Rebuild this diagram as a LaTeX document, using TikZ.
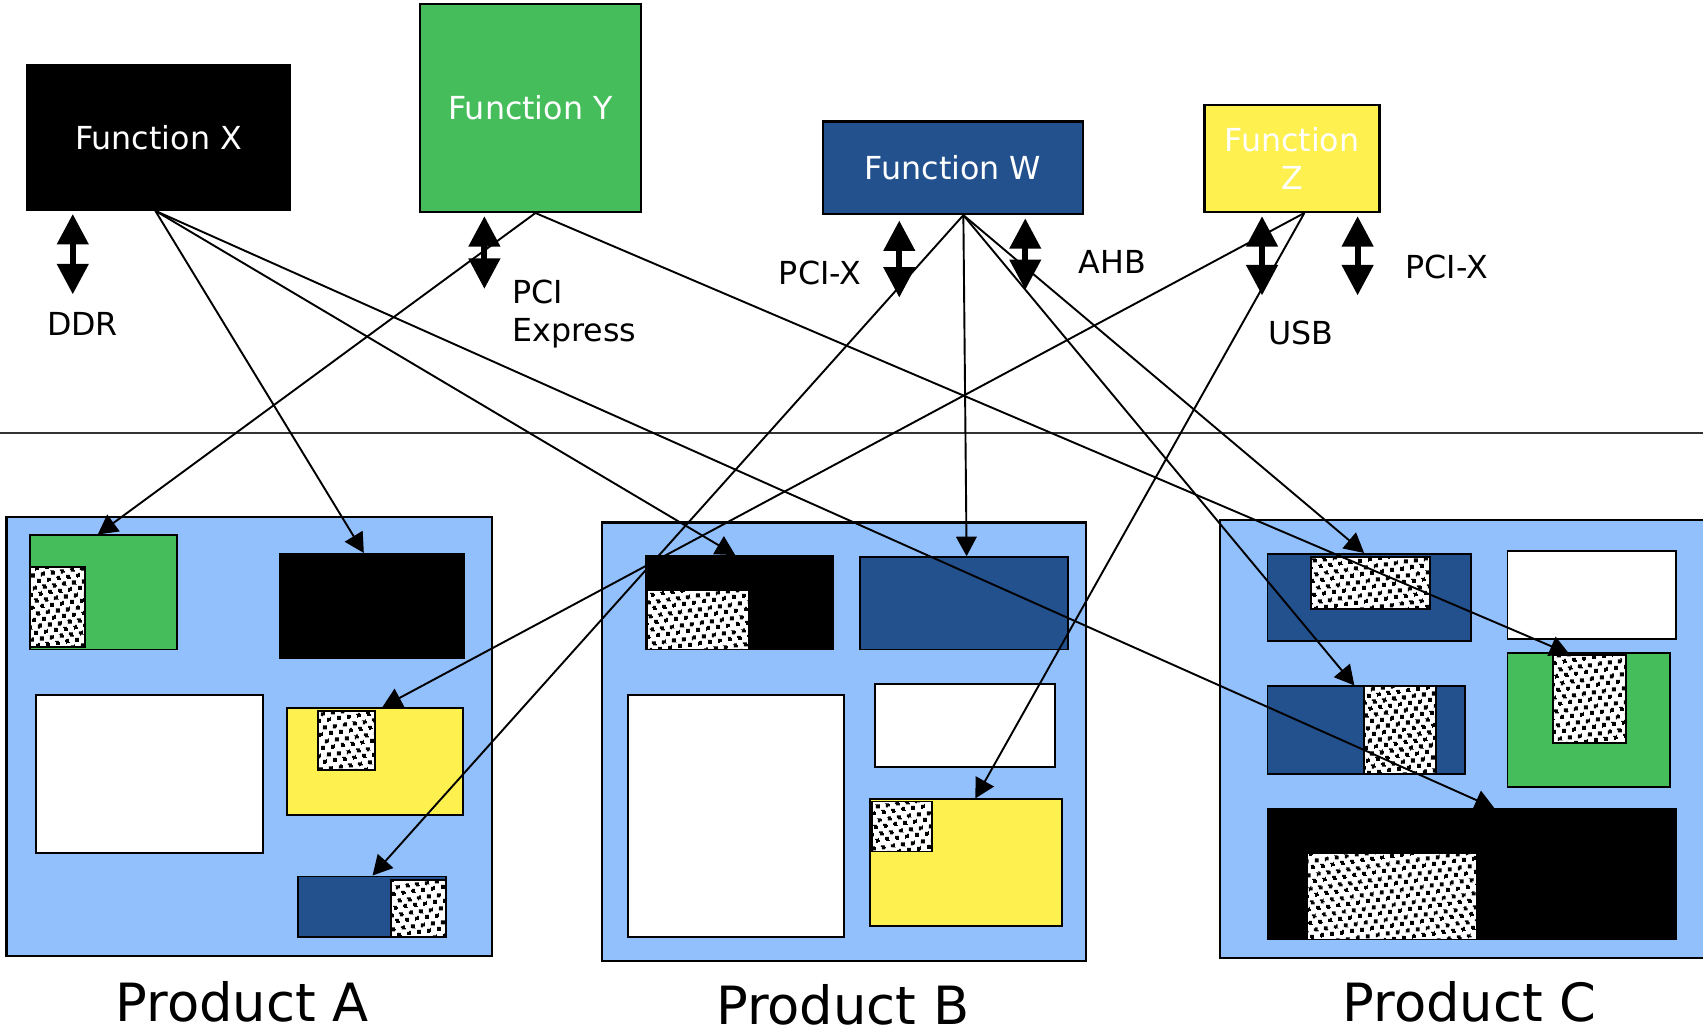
\documentclass[tikz,border=0pt]{standalone}
\usepackage{fontspec}
\setmainfont{DejaVu Sans}
\usetikzlibrary{arrows.meta,fit,patterns.meta}
\definecolor{fgreen}{HTML}{45BD5B}
\definecolor{fblue}{HTML}{22518E}
\definecolor{fyellow}{HTML}{FDF04F}
\definecolor{pblue}{HTML}{92C0FC}
\tikzdeclarepattern{
  name=chipdots,
  type=uncolored,
  bounding box={(0pt,0pt) and (2.6pt,3.4pt)},
  tile size={(2.6pt,3.4pt)},
  tile transformation={rotate=8},
  code={
    \fill (0pt,0pt) rectangle (1.05pt,1.05pt);
    \fill (1.3pt,1.7pt) rectangle (2.35pt,2.75pt);
  }
}
\begin{document}
\begin{tikzpicture}[x=0.01cm, y=-0.01cm,
  func/.style={draw=black, line width=0.6pt, inner sep=0pt, text=white, align=center, font=\fontsize{8.3}{10}\selectfont},
  lbl/.style={inner sep=0pt, font=\fontsize{8.3}{10}\selectfont},
  prod/.style={draw=black, line width=0.6pt, fill=pblue, inner sep=0pt},
  part/.style={draw=black, line width=0.5pt, inner sep=0pt},
  chip/.style={part, preaction={fill=white}, pattern=chipdots},
  prodlbl/.style={inner sep=0pt, font=\fontsize{13.8}{16}\selectfont},
  bus/.style={line width=1.6pt, {Triangle[length=0.28cm,width=0.28cm]}-{Triangle[length=0.28cm,width=0.28cm]}},
  link/.style={line width=0.5pt, -{Triangle[length=0.18cm,width=0.19cm]}}]
\useasboundingbox (0,0) rectangle (1568,951);

% functions
\node[func, fill=black, minimum width=2.42cm, minimum height=1.33cm] (fx) at (146,126.5) {Function X};
\node[func, fill=fgreen, minimum width=2.03cm, minimum height=1.91cm] (fy) at (488.5,99.5) {Function Y};
\node[func, fill=fblue, minimum width=2.39cm, minimum height=0.85cm] (fw) at (877.5,154.5) {Function W};
\node[func, fill=fyellow, minimum width=1.61cm, minimum height=0.98cm] (fz) at (1189.5,146) {Function\\Z};

% interfaces
\foreach \n/\x/\ya/\yb in {ddr/67/197/271, pcie/446/199/266, pcixa/828/203/274, ahb/944/201/267, usb/1162/199/272, pcixb/1250/199/272} {
  \coordinate (\n top) at (\x,\ya);
  \coordinate (\n bot) at (\x,\yb);
  \draw[bus] (\n top) -- (\n bot);
}
\node[lbl] (ddr) at (76,298) {DDR};
\node[lbl, align=left, anchor=north west] (pcie) at (471,257) {PCI\\Express};
\node[lbl] (pcixa) at (755,251) {PCI-X};
\node[lbl] (ahb) at (1024,241) {AHB};
\node[lbl] (usb) at (1198,307) {USB};
\node[lbl] (pcixb) at (1332,246) {PCI-X};

\draw[line width=0.5pt, black!80] (0,399) -- (1568,399);

% products
\node[prod, fit={(6,476) (453,880)}] (prodA) {};
\node[prod, fit={(554,481) (1000,885)}] (prodB) {};
\node[prod, fit={(1123,479) (1580,882)}] (prodC) {};
\node[prodlbl] (lblA) at (223,922) {Product A};
\node[prodlbl] (lblB) at (776,925) {Product B};
\node[prodlbl] (lblC) at (1353,922) {Product C};

% product A
\node[part, fill=fgreen, fit={(28,493) (163,598)}] (aGreen) {};
\node[chip, fit={(28,522) (78,596)}] (aGreenChip) {};
\node[part, fill=black, fit={(258,510) (427,606)}] (aBlack) {};
\node[part, fill=white, fit={(33,640) (242,785)}] (aWhite) {};
\node[part, fill=fyellow, fit={(264,652) (426,750)}] (aYellow) {};
\node[chip, fit={(293,655) (345,709)}] (aYellowChip) {};
\node[part, fill=fblue, fit={(274,807) (411,863)}] (aBlue) {};
\node[chip, fit={(360,810) (411,863)}] (aBlueChip) {};

% product B
\node[part, fill=black, fit={(595,512) (767,598)}] (bBlack) {};
\node[chip, fit={(596,543) (690,598)}] (bBlackChip) {};
\node[part, fill=fblue, fit={(792,513) (983,598)}] (bBlue) {};
\node[part, fill=white, fit={(578,640) (777,863)}] (bWhiteL) {};
\node[part, fill=white, fit={(806,630) (971,706)}] (bWhiteS) {};
\node[part, fill=fyellow, fit={(801,736) (978,853)}] (bYellow) {};
\node[chip, fit={(803,738) (858,784)}] (bYellowChip) {};

% product C
\node[part, fill=fblue, fit={(1167,510) (1354,590)}] (cBlueT) {};
\node[chip, fit={(1207,513) (1317,561)}] (cBlueTChip) {};
\node[part, fill=white, fit={(1388,507) (1543,588)}] (cWhite) {};
\node[part, fill=fblue, fit={(1167,632) (1349,713)}] (cBlueM) {};
\node[chip, fit={(1256,632) (1322,713)}] (cBlueMChip) {};
\node[part, fill=fgreen, fit={(1388,601) (1538,725)}] (cGreen) {};
\node[chip, fit={(1430,603) (1497,684)}] (cGreenChip) {};
\node[part, fill=black, fit={(1167,745) (1543,865)}] (cBlack) {};
\node[chip, fit={(1203,785) (1360,865)}] (cBlackChip) {};

% reuse links
\draw[link] (fx.south -| 143,0) -- (aBlack.north -| 335,0);
\draw[link] (fx.south -| 143,0) -- (bBlack.north -| 677,0);
\draw[link] (fx.south -| 143,0) -- (cBlack.north -| 1376,0);
\draw[link] (fy.south -| 493,0) -- (aGreen.north -| 90,0);
\draw[link] (fy.south -| 493,0) -- (cGreenChip.north -| 1445,0);
\draw[link] (fw.south -| 887,0) -- (aBlue.north -| 343,0);
\draw[link] (fw.south -| 887,0) -- (bBlue.north -| 890,0);
\draw[link] (fw.south -| 887,0) -- (cBlueM.north -| 1247,0);
\draw[link] (fw.south -| 887,0) -- (cBlueT.north -| 1256,0);
\draw[link] (fz.south -| 1201,0) -- (aYellow.north -| 352,0);
\draw[link] (fz.south -| 1201,0) -- (bYellow.north -| 898,0);
\end{tikzpicture}
\end{document}
